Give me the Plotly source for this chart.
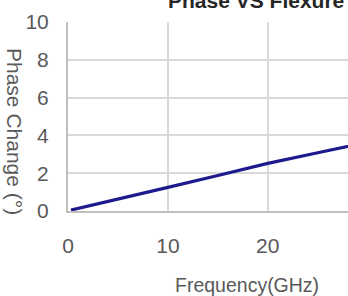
import plotly.graph_objects as go

# Data
frequency_ghz = [0.3, 5, 10, 15, 20, 25, 30]
phase_change_deg = [0.05, 0.65, 1.25, 1.88, 2.52, 3.08, 3.65]

x_ticks = [0, 10, 20, 30, 40]
y_ticks = [0, 2, 4, 6, 8, 10]

FONT = "Arial, Liberation Sans, sans-serif"
TICK_COLOR = "#595959"

fig = go.Figure()
fig.add_trace(go.Scatter(
    x=frequency_ghz, y=phase_change_deg, mode="lines",
    line=dict(color="#1c1a8c", width=3.2),
    hoverinfo="skip", showlegend=False,
))

fig.update_layout(
    width=348, height=296,
    margin=dict(l=68, r=0, t=22, b=85, pad=0),
    paper_bgcolor="white", plot_bgcolor="white",
    font=dict(family=FONT, color=TICK_COLOR),
    showlegend=False,
)

fig.update_xaxes(
    range=[0, 28.03], tickvals=x_ticks, ticktext=[str(v) for v in x_ticks],
    showgrid=True, gridcolor="#d9d9d9", gridwidth=2,
    showline=True, linecolor="#bfbfbf", linewidth=2,
    zeroline=False, ticks="", ticklabelstandoff=15,
    tickfont=dict(size=21, color=TICK_COLOR, family=FONT),
)
fig.update_yaxes(
    range=[0, 10], tickvals=y_ticks, ticktext=[str(v) for v in y_ticks],
    showgrid=True, gridcolor="#d9d9d9", gridwidth=2,
    showline=True, linecolor="#bfbfbf", linewidth=2,
    zeroline=False, ticks="", ticklabelstandoff=13,
    tickfont=dict(size=21, color=TICK_COLOR, family=FONT),
)

# Chart title (partly cut off at top, as in the reference)
fig.add_annotation(
    text="<b>Phase VS Flexure</b>", xref="paper", yref="paper",
    x=(256 - 68) / 280, y=1 + 22 / 189, xanchor="center", yanchor="middle",
    showarrow=False, font=dict(size=21, color="#262626", family=FONT),
)
# Y axis title, reading top-to-bottom
fig.add_annotation(
    text="Phase Change (°)", xref="paper", yref="paper",
    x=-(68 - 15) / 280, y=(211 - 131) / 189, xanchor="center", yanchor="middle",
    textangle=90, showarrow=False,
    font=dict(size=21, color=TICK_COLOR, family=FONT),
)
# X axis title
fig.add_annotation(
    text="Frequency(GHz)", xref="paper", yref="paper",
    x=(247 - 68) / 280, y=-(285 - 211) / 189, xanchor="center", yanchor="middle",
    showarrow=False, font=dict(size=19.5, color=TICK_COLOR, family=FONT),
)

fig.write_html(
    "out.html",
    config={"displayModeBar": False},
    post_script="document.body.style.margin='0';document.body.style.overflow='hidden';",
)
